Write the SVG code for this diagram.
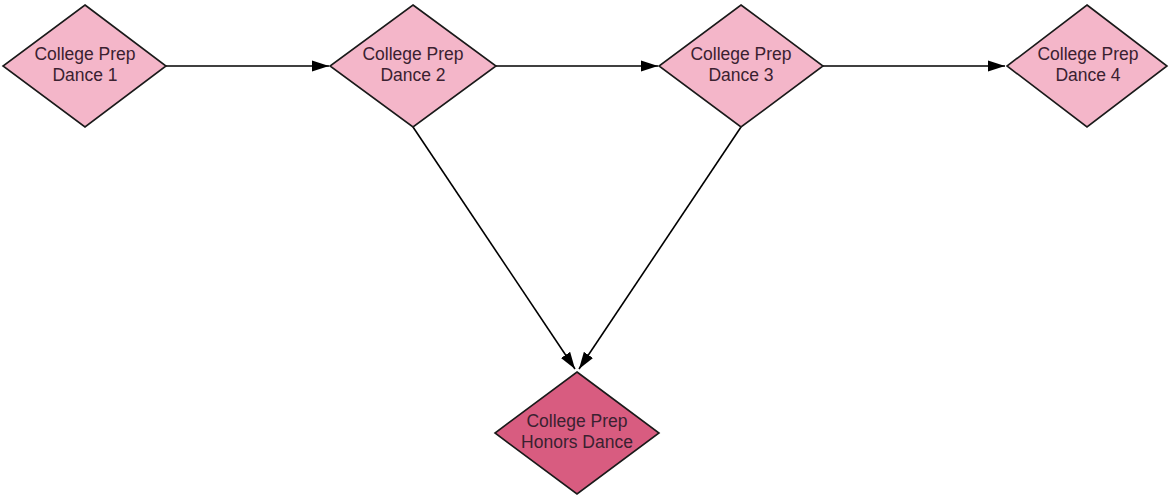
<svg xmlns="http://www.w3.org/2000/svg" width="1171" height="496" viewBox="0 0 1171 496">
<style>
.n{fill:#f4b6c9;stroke:#1a1a1a;stroke-width:1.6}
.h{fill:#d85c80;stroke:#1a1a1a;stroke-width:1.6}
.t{font-family:"Liberation Sans",Arial,sans-serif;font-size:17.5px;fill:#3a2130;text-anchor:middle}
.c{stroke:#000;stroke-width:1.6;fill:none;marker-end:url(#a)}
</style>
<defs>
<marker id="a" markerWidth="18" markerHeight="12" refX="17" refY="6" orient="auto" markerUnits="userSpaceOnUse">
<path d="M0,0.5 L17,6 L0,11.5 Z" fill="#000"/>
</marker>
</defs>
<rect width="1171" height="496" fill="#fff"/>
<g id="connectors">
<line class="c" x1="166" y1="66" x2="329" y2="66"/>
<line class="c" x1="496" y1="66" x2="658" y2="66"/>
<line class="c" x1="823" y1="66" x2="1005" y2="66"/>
<line class="c" x1="413" y1="127" x2="575" y2="369"/>
<line class="c" x1="741" y1="127" x2="579" y2="369"/>
</g>
<g id="n1"><polygon class="n" points="85,5 166,66 85,127 3,66"/><text class="t" x="85" y="60">College Prep</text><text class="t" x="85" y="81">Dance 1</text></g>
<g id="n2"><polygon class="n" points="413,5 496,66 413,127 330,66"/><text class="t" x="413" y="60">College Prep</text><text class="t" x="413" y="81">Dance 2</text></g>
<g id="n3"><polygon class="n" points="741,5 823,66 741,127 659,66"/><text class="t" x="741" y="60">College Prep</text><text class="t" x="741" y="81">Dance 3</text></g>
<g id="n4"><polygon class="n" points="1087,5 1167,66 1087,127 1007,66"/><text class="t" x="1088" y="60">College Prep</text><text class="t" x="1088" y="81">Dance 4</text></g>
<g id="n5"><polygon class="h" points="577,372 659,433 577,494 495,433"/><text class="t" x="577" y="427">College Prep</text><text class="t" x="577" y="448">Honors Dance</text></g>
</svg>
